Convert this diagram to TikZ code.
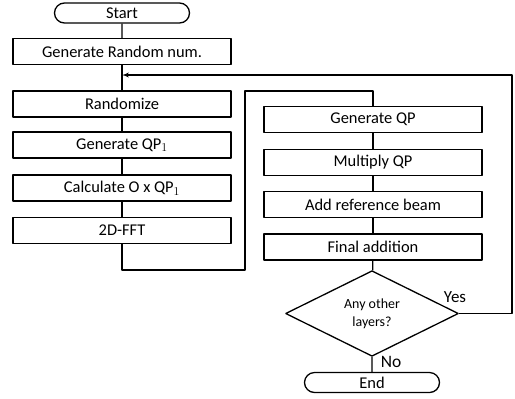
\documentclass[tikz,border=0pt]{standalone}
\usepackage{fontspec}
\setmainfont{Carlito}
\usetikzlibrary{arrows,shapes.geometric,shapes.misc}

\begin{document}
\begin{tikzpicture}[>=latex',line join=bevel,x=1bp,y=-1bp,
  procbox/.style={draw,rectangle,minimum width=218bp,minimum height=26bp,inner sep=0pt,font=\fontsize{16.5}{18}\selectfont},
  termbox/.style={draw,rounded rectangle,minimum width=135bp,minimum height=20bp,inner sep=0pt,font=\fontsize{16.5}{18}\selectfont},
  decbox/.style={draw,diamond,minimum width=173bp,minimum height=77bp,inner sep=0pt,align=center,font=\fontsize{14}{18}\selectfont}]
\pgfsetlinewidth{1.3bp}
\useasboundingbox (0,0) rectangle (515,398);

% Nodes: left column
\node[termbox] (start) at (122,13) {Start};
\node[procbox] (randnum) at (122,51.5) {Generate Random num.};
\node[procbox] (randomize) at (122,104) {Randomize};
\node[procbox] (genqpone) at (122,145) {Generate QP$_1$};
\node[procbox] (calcqp) at (122,188) {Calculate O x QP$_1$};
\node[procbox] (fft) at (122,230.5) {2D-FFT};

% Nodes: right column
\node[procbox] (genqp) at (373,119.5) {Generate QP};
\node[procbox] (multqp) at (373,162.5) {Multiply QP};
\node[procbox] (addref) at (373,204.5) {Add reference beam};
\node[procbox] (final) at (373,247) {Final addition};
\node[decbox] (layers) at (372,313.5) {Any other\\layers?};
\node[termbox] (end) at (372,382.5) {End};

% Edges: left column
\draw (start) -- (randnum);
\draw (randnum) -- (randomize);
\draw (randomize) -- (genqpone);
\draw (genqpone) -- (calcqp);
\draw (calcqp) -- (fft);

% Edge: fft -> genqp
\draw (fft.south) -- (122,270) -- (245,270) -- (245,91) -- (373,91) -- (genqp.north);

% Edges: right column
\draw (genqp) -- (multqp);
\draw (multqp) -- (addref);
\draw (addref) -- (final);
\draw (final) -- (layers);
\draw (layers) -- (end);

% Edge: layers -> loop back
\coordinate (join) at (122,75);
\draw [->] (layers.east) -- (512,313.5) -- (512,75) -- (join);

% Labels
\node[font=\fontsize{17}{18}\selectfont] (yes) at (455,297) {Yes};
\node[font=\fontsize{17.5}{18}\selectfont] (no) at (391,362) {No};

\end{tikzpicture}
\end{document}
